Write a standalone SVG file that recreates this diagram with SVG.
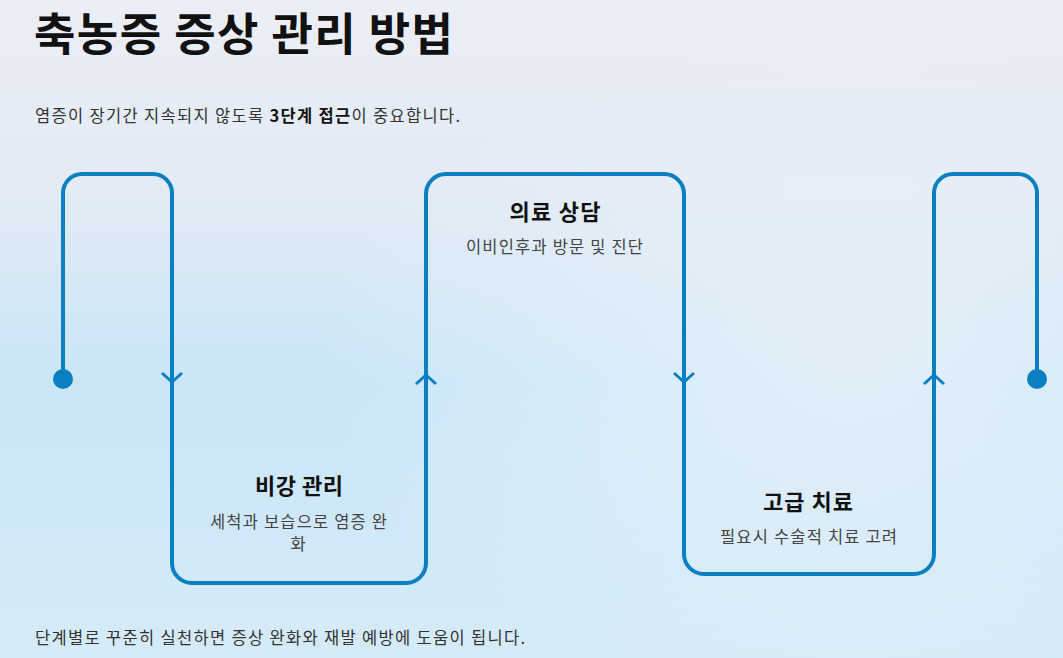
<svg xmlns="http://www.w3.org/2000/svg" width="1063" height="658" viewBox="0 0 1063 658">
<defs>
<linearGradient id="bg" x1="0" y1="0" x2="0" y2="1">
<stop offset="0" stop-color="#eceef6"/>
<stop offset="0.3" stop-color="#e2ebf5"/>
<stop offset="0.58" stop-color="#c9e6f7"/>
<stop offset="1" stop-color="#d6ebf8"/>
</linearGradient>
<radialGradient id="glow" cx="0.8" cy="0.55" r="0.5">
<stop offset="0" stop-color="#eef4fa" stop-opacity="0.7"/>
<stop offset="1" stop-color="#eef4fa" stop-opacity="0"/>
</radialGradient>
</defs>
<style>
.flow{fill:none;stroke:#0a7fc1;stroke-width:4;stroke-linejoin:round;stroke-linecap:round}
.chev{fill:none;stroke:#0a7fc1;stroke-width:3;stroke-linecap:butt;stroke-linejoin:miter}
.t{font-family:"Noto Sans CJK KR","Noto Sans",sans-serif}
.title{font-size:45px;font-weight:700;fill:#111}
.body{font-size:16.5px;fill:#333}
.head{font-size:22px;font-weight:700;fill:#111;text-anchor:middle}
.sub{font-size:16.5px;fill:#444;text-anchor:middle}
</style>
<rect width="1063" height="658" fill="url(#bg)"/>
<rect width="1063" height="658" fill="url(#glow)"/>
<text class="t title" x="34" y="51" textLength="419" lengthAdjust="spacing">축농증 증상 관리 방법</text>
<text class="t body" x="35" y="122" textLength="425" lengthAdjust="spacing">염증이 장기간 지속되지 않도록 <tspan font-weight="700" fill="#111">3단계 접근</tspan>이 중요합니다.</text>
<g id="connectors">
<path class="flow" d="M63,379 V193 A19,19 0 0 1 82,174 H153 A19,19 0 0 1 172,193 V563 A20,20 0 0 0 192,583 H406 A20,20 0 0 0 426,563 V194 A20,20 0 0 1 446,174 H664 A20,20 0 0 1 684,194 V554 A20,20 0 0 0 704,574 H914 A20,20 0 0 0 934,554 V193 A19,19 0 0 1 953,174 H1018 A19,19 0 0 1 1037,193 V379"/>
<circle cx="63" cy="379" r="10" fill="#0a7fc1"/>
<circle cx="1037" cy="379" r="10" fill="#0a7fc1"/>
<path class="chev" d="M162,373 L172,382 L182,373"/>
<path class="chev" d="M416,384 L426,375 L436,384"/>
<path class="chev" d="M674,373 L684,382 L694,373"/>
<path class="chev" d="M924,384 L934,375 L944,384"/>
</g>
<g id="node-1">
<text class="t head" x="299" y="494" textLength="88" lengthAdjust="spacing">비강 관리</text>
<text class="t sub" x="298.5" y="528" textLength="177" lengthAdjust="spacing">세척과 보습으로 염증 완</text>
<text class="t sub" x="298" y="550">화</text>
</g>
<g id="node-2">
<text class="t head" x="555" y="220" textLength="91" lengthAdjust="spacing">의료 상담</text>
<text class="t sub" x="554.5" y="253" textLength="177" lengthAdjust="spacing">이비인후과 방문 및 진단</text>
</g>
<g id="node-3">
<text class="t head" x="808" y="510" textLength="90" lengthAdjust="spacing">고급 치료</text>
<text class="t sub" x="808.5" y="543" textLength="177" lengthAdjust="spacing">필요시 수술적 치료 고려</text>
</g>
<text class="t body" x="35" y="644" textLength="490" lengthAdjust="spacing">단계별로 꾸준히 실천하면 증상 완화와 재발 예방에 도움이 됩니다.</text>
</svg>
